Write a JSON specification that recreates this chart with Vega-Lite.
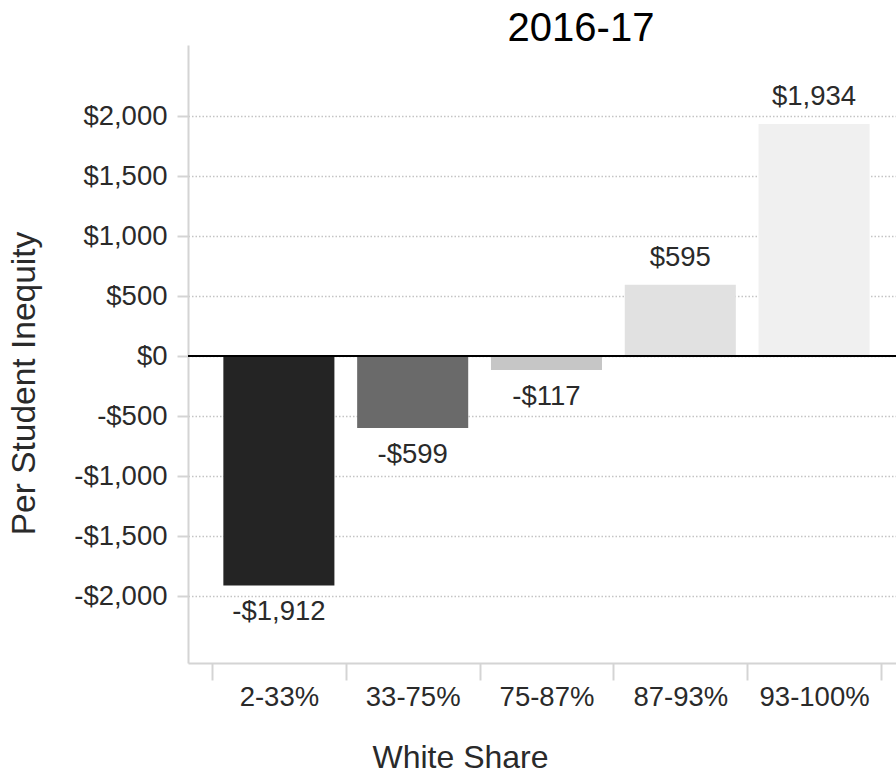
{
  "$schema": "https://vega.github.io/schema/vega-lite/v6.json",
  "width": 708,
  "height": 618,
  "autosize": {"type": "none"},
  "padding": {"left": 188, "top": 45, "right": 0, "bottom": 110},
  "background": "white",
  "title": {"text": "2016-17", "fontSize": 40, "font": "Liberation Sans", "fontWeight": "normal", "color": "#000000", "anchor": "middle", "dx": 39, "dy": 7, "offset": 3},
  "data": {"values": [
    {"share": "2-33%", "inequity": -1912},
    {"share": "33-75%", "inequity": -599},
    {"share": "75-87%", "inequity": -117},
    {"share": "87-93%", "inequity": 595},
    {"share": "93-100%", "inequity": 1934}
  ]},
  "encoding": {
    "x": {"field": "share", "type": "nominal", "sort": null,
      "scale": {"paddingInner": 0, "paddingOuter": 0.1457, "align": 0.615},
      "axis": {"title": "White Share", "labelAngle": 0, "tickBand": "extent", "labelFont": "Liberation Sans", "labelFontSize": 27.5, "labelColor": "#2a2a2a", "labelPadding": 3, "tickSize": 17, "tickWidth": 2, "tickColor": "#d4d4d4", "domainColor": "#d4d4d4", "domainWidth": 2, "titleFont": "Liberation Sans", "titleFontSize": 32, "titleFontWeight": "normal", "titleColor": "#2a2a2a", "titleX": 272, "titleY": 94, "titleBaseline": "middle", "titleAlign": "center"}
    },
    "y": {"field": "inequity", "type": "quantitative",
      "scale": {"domain": [-2558, 2592], "nice": false, "zero": false},
      "axis": {"title": "Per Student Inequity", "values": [-2000, -1500, -1000, -500, 0, 500, 1000, 1500, 2000], "format": "$,.0f", "grid": true, "gridDash": [1.5, 2], "gridColor": "#c4c4c4", "gridWidth": 1.5, "domainColor": "#d4d4d4", "domainWidth": 2, "tickColor": "#d4d4d4", "tickSize": 11, "tickWidth": 2, "labelFont": "Liberation Sans", "labelFontSize": 27.5, "labelColor": "#2a2a2a", "labelPadding": 10, "titleFont": "Liberation Sans", "titleFontSize": 33.5, "titleFontWeight": "normal", "titleColor": "#2a2a2a", "titleX": -164, "titleY": 338, "titleBaseline": "middle", "titleAlign": "center", "titleAngle": -90}
    }
  },
  "layer": [
    {
      "mark": {"type": "bar", "width": {"band": 0.83}},
      "encoding": {
        "color": {"field": "share", "type": "nominal", "sort": null,
          "scale": {"domain": ["2-33%", "33-75%", "75-87%", "87-93%", "93-100%"], "range": ["#242424", "#6a6a6a", "#c6c6c6", "#e1e1e1", "#f0f0f0"]},
          "legend": null}
      }
    },
    {
      "mark": {"type": "rule", "color": "#000000", "strokeWidth": 2},
      "encoding": {"x": null, "y": {"datum": 0}}
    },
    {
      "transform": [{"filter": "datum.inequity >= 0"}],
      "mark": {"type": "text", "baseline": "middle", "dy": -27, "font": "Liberation Sans", "fontSize": 27.5, "color": "#2a2a2a"},
      "encoding": {"text": {"field": "inequity", "type": "quantitative", "format": "$,.0f"}}
    },
    {
      "transform": [{"filter": "datum.inequity < 0"}],
      "mark": {"type": "text", "baseline": "middle", "dy": 27, "font": "Liberation Sans", "fontSize": 27.5, "color": "#2a2a2a"},
      "encoding": {"text": {"field": "inequity", "type": "quantitative", "format": "$,.0f"}}
    }
  ],
  "config": {
    "view": {"stroke": null},
    "locale": {"number": {"decimal": ".", "thousands": ",", "grouping": [3], "currency": ["$", ""], "minus": "-"}}
  }
}
